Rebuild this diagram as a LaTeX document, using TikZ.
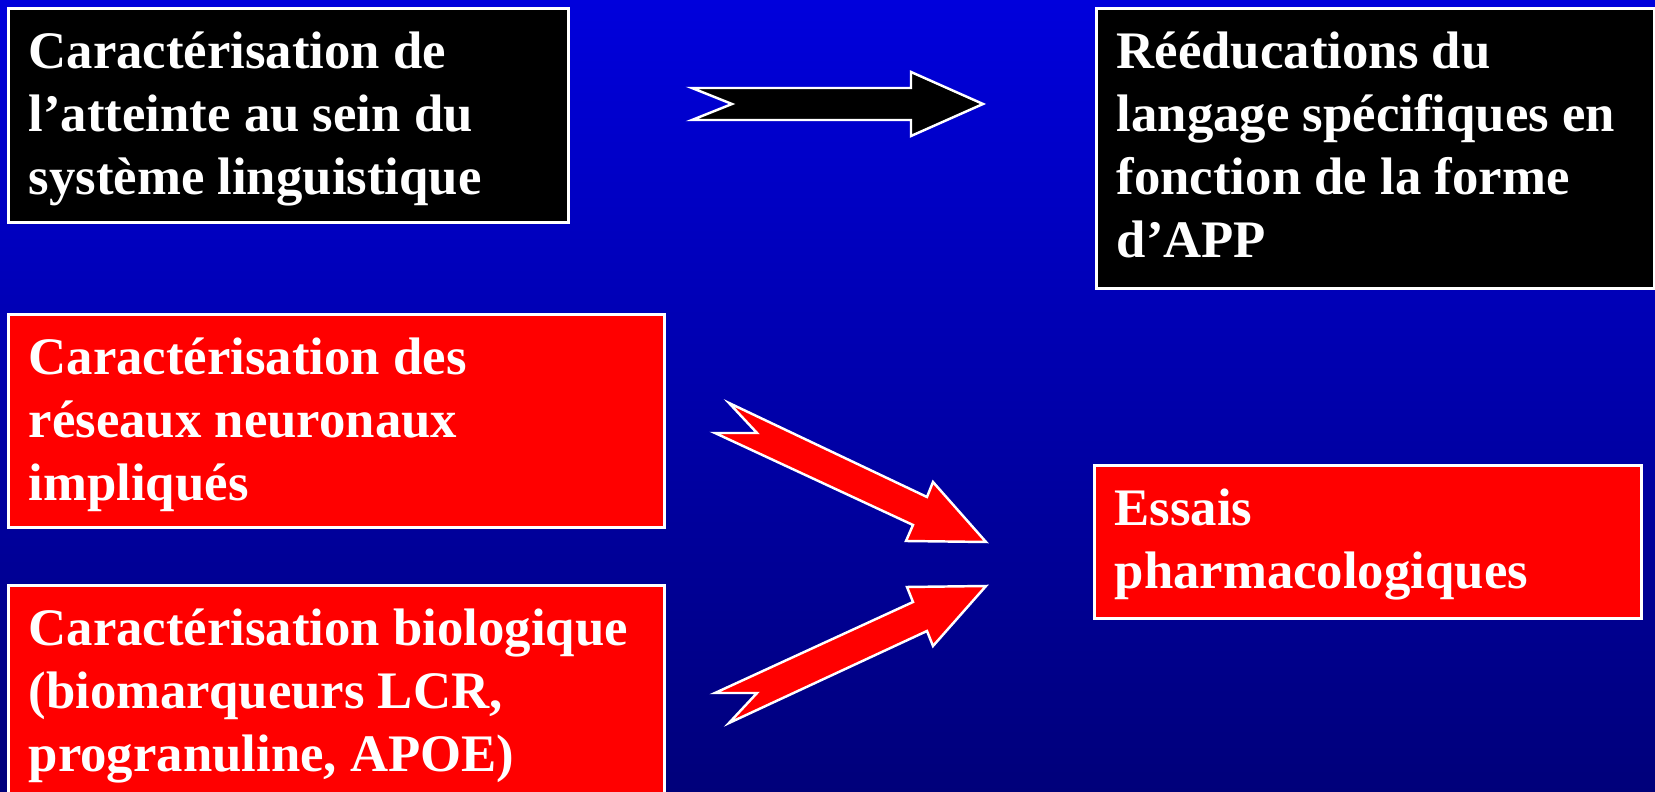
\documentclass[tikz,border=0pt]{standalone}
\usepackage{fontspec}
\setmainfont{Liberation Serif}
\usetikzlibrary{calc}

\begin{document}
\begin{tikzpicture}[x=0.01cm,y=-0.01cm,
  box/.style={draw=white,line width=0.8pt,inner sep=0pt,anchor=north west},
  txt/.style={text=white,inner sep=0pt,anchor=base west,align=flush left,font=\bfseries\fontsize{15}{17.9}\selectfont},
  blk/.style={draw=white,line width=0.7pt,line join=miter}]
  \useasboundingbox (0,0) rectangle (1655,792);
  \shade[top color={rgb,255:red,0;green,0;blue,220},bottom color={rgb,255:red,0;green,0;blue,122}] (0,0) rectangle (1655,792);
  \path (7,7) node[box,fill=black,minimum width=5.6cm,minimum height=2.14cm] (ling) {}
  (1095,7) node[box,fill=black,minimum width=5.58cm,minimum height=2.8cm] (reed) {}
  (7,313) node[box,fill=red,minimum width=6.56cm,minimum height=2.13cm] (res) {}
  (7,584) node[box,fill=red,minimum width=6.56cm,minimum height=2.3cm] (bio) {}
  (1093,464) node[box,fill=red,minimum width=5.47cm,minimum height=1.53cm] (ess) {};
  \path ($(ling.north west)+(21,62)$) node[txt,text width=5.3cm] (lingt) {Caractérisation de\\l’atteinte au sein du\\système linguistique}
  ($(reed.north west)+(21,62)$) node[txt,text width=5.3cm] (reedt) {Rééducations du\\langage spécifiques en\\fonction de la forme\\d’APP}
  ($(res.north west)+(21,62)$) node[txt,text width=6.2cm] (rest) {Caractérisation des\\réseaux neuronaux\\impliqués}
  ($(bio.north west)+(21,62)$) node[txt,text width=6.2cm] (biot) {Caractérisation biologique\\(biomarqueurs LCR,\\progranuline, APOE)}
  ($(ess.north west)+(21,62)$) node[txt,text width=5.2cm] (esst) {Essais\\pharmacologiques};
  % block arrows
  \filldraw[blk,fill=black] (692,88) -- (911,88) -- (911,72) -- (983,104) -- (911,136) -- (911,120) -- (692,120) -- (732,104) -- cycle;
  \filldraw[blk,fill=red] (729,403) -- (927,497) -- (933,482) -- (986,542) -- (906,541) -- (913,525) -- (715,433) -- (757,433) -- cycle;
  \filldraw[blk,fill=red] (715,693) -- (913,602) -- (907,587) -- (986,586) -- (933,646) -- (927,631) -- (729,723) -- (757,693) -- cycle;
\end{tikzpicture}
\end{document}
